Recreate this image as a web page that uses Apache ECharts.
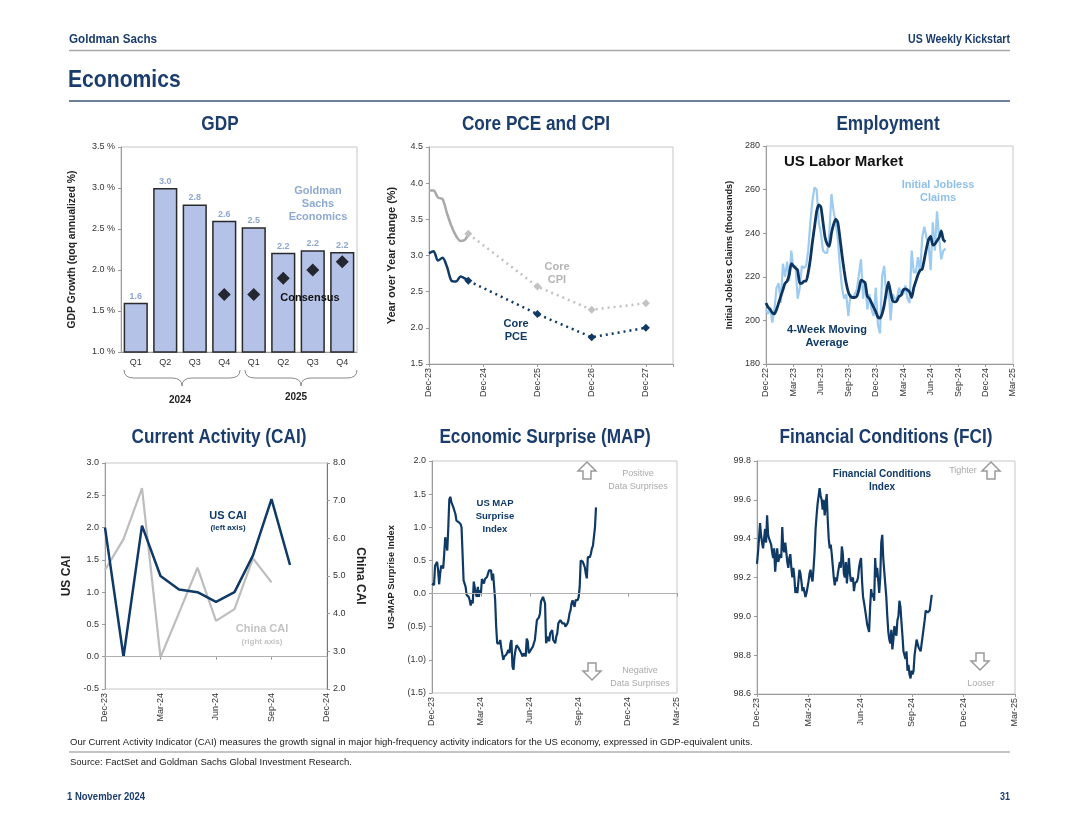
<!DOCTYPE html>
<html><head><meta charset="utf-8">
<script src="https://cdn.jsdelivr.net/npm/echarts/dist/echarts.min.js"></script>
<style>html,body{margin:0;padding:0;background:#fff}#c{width:1080px;height:835px}</style>
</head><body><div id="c"></div>
<script>
// ---------------- DATA ----------------
const gdpQuarters = ['Q1','Q2','Q3','Q4','Q1','Q2','Q3','Q4'];
const gdpGS = [1.6, 3.0, 2.8, 2.6, 2.52, 2.21, 2.24, 2.22];
const gdpLabels = ['1.6','3.0','2.8','2.6','2.5','2.2','2.2','2.2'];
const gdpConsensus = [null, null, null, 1.7, 1.7, 1.9, 2.0, 2.1];
const gdpYears = ['2024','2025'];

const pceTickLabels = ['Dec-23','Dec-24','Dec-25','Dec-26','Dec-27'];
const cpiActual = [3.9, 3.9, 3.8, 3.78, 3.58, 3.4, 3.27, 3.2, 3.22];
const pceActual = [3.03, 3.06, 2.93, 2.97, 2.84, 2.65, 2.64, 2.71, 2.68];
const forecastMonths = [8.7, 24, 36, 48];
const cpiForecast = [3.3, 2.57, 2.25, 2.34];
const pceForecast = [2.65, 2.19, 1.87, 2.0];

const empTickLabels = ['Dec-22','Mar-23','Jun-23','Sep-23','Dec-23','Mar-24','Jun-24','Sep-24','Dec-24','Mar-25'];
const claimsWeekly = [205,203,206,199,205,215,217,208,226,220,
  227,218,232,224,225,210,215,225,224,225,
  232,245,255,261,260,245,240,232,231,231,
  240,258,250,245,238,225,215,210,212,202,
  212,210,212,214,221,228,210,218,205,212,
  205,202,215,198,194,220,225,210,218,200,
  212,210,210,215,212,212,216,210,208,232,
  222,222,229,222,238,243,238,235,223,245,
  232,250,238,228,232,233];
const claimsMA4 = [208,206,205,203.5,203,205,208,211,214,217,
  218,221,226,225,224,223,217,217,218,218,
  222,228,236,243,250,253,252,245,238,235,
  234,240,244,246.5,245,238,230,223,217,213,
  211,210.5,210.5,211,214,218.5,218,217,211,210,
  208,206,204,201.5,201,203,207,213,217.5,213,
  209,208.5,209,211,211.5,214,214.5,214,213,210.5,
  215,218,221,223,223.5,228,233,237,238.5,234.5,
  235,236.5,238,241,237,236];

const caiTickLabels = ['Dec-23','Mar-24','Jun-24','Sep-24','Dec-24'];
const usCAI = [2.0, 0.0, 2.03, 1.25, 1.04, 1.0, 0.85, 1.0, 1.57, 2.44, 1.42];
const chinaCAI = [5.16, 5.98, 7.33, 2.84, 4.02, 5.22, 3.81, 4.12, 5.47, 4.83];

const qTickLabels = ['Dec-23','Mar-24','Jun-24','Sep-24','Dec-24','Mar-25'];
const mapSpanMonths = 10.04;
const mapValues = [0.15,0.13,0.13,0.42,0.45,0.48,0.35,0.14,0.30,0.42,0.40,0.38,0.60,0.85,0.85,0.65,1.00,1.42,1.46,1.38,1.35,1.30,1.25,1.20,1.10,1.13,1.08,1.10,1.05,1.00,0.60,0.20,0.15,
  0.10,-0.02,-0.05,-0.05,-0.10,-0.18,-0.10,-0.15,0.18,0.15,0.00,-0.05,0.10,-0.05,0.05,0.00,0.22,0.20,0.15,0.22,0.20,0.25,0.28,0.35,0.32,0.35,0.20,0.30,0.10,-0.10,-0.50,-0.75,-0.72,-0.75,-0.70,-0.82,-0.80,-1.00,-0.95,-0.98,-0.92,-0.95,-0.85,-0.90,-0.75,-0.70,-1.10,-1.15,-0.95,-0.85,-0.78,-0.76,-0.82,-0.80,-0.88,-0.85,-0.95,-0.90,-0.88,-0.95,-0.68,-0.72,-0.90,-0.92,-0.85,-0.82,-0.80,-0.75,-0.70,-0.55,-0.40,-0.38,-0.36,-0.30,-0.12,-0.10,-0.05,-0.04,-0.15,
  -0.75,-0.70,-0.65,-0.72,-0.60,-0.58,-0.55,-0.70,-0.72,-0.75,-0.65,-0.60,-0.45,-0.48,-0.40,-0.42,-0.45,-0.42,-0.45,-0.50,-0.48,-0.45,-0.40,-0.30,-0.25,-0.15,-0.10,-0.12,-0.20,-0.10,-0.12,-0.10,-0.05,0.10,0.50,0.50,0.48,0.45,0.40,0.30,0.23,0.55,0.57,0.55,0.60,0.68,0.72,0.70,1.00,1.30];

const fciSpanMonths = 10.16;
const fciValues = [99.27,99.33,99.40,99.48,99.42,99.38,99.35,99.40,99.45,99.38,
  99.52,99.42,99.40,99.40,99.37,99.33,99.30,99.35,99.23,99.30,
  99.35,99.28,99.30,99.32,99.30,99.46,99.35,99.33,99.38,99.39,
  99.28,99.25,99.30,99.32,99.25,99.20,99.25,99.20,99.12,99.15,
  99.12,99.18,99.24,99.22,99.18,99.13,99.15,99.14,99.10,99.12,
  99.15,99.18,99.22,99.24,99.20,99.18,99.25,99.33,99.45,99.52,
  99.58,99.62,99.66,99.62,99.60,99.55,99.60,99.52,99.58,99.63,
  99.50,99.40,99.35,99.37,99.32,99.33,99.20,99.16,99.20,99.18,
  99.22,99.25,99.28,99.25,99.36,99.32,99.22,99.20,99.28,99.17,
  99.24,99.30,99.22,99.18,99.17,99.20,99.13,99.17,99.16,99.18,
  99.20,99.25,99.28,99.30,99.18,99.10,99.07,99.06,99.00,98.96,
  98.95,98.92,99.05,99.14,99.10,99.12,99.08,99.30,99.20,99.25,
  99.24,99.12,99.20,99.38,99.42,99.30,99.23,99.22,99.10,99.00,
  98.92,98.88,98.86,98.93,98.83,98.88,98.95,98.92,98.90,98.98,
  99.00,99.08,99.05,98.97,98.90,98.82,98.80,98.78,98.82,98.72,
  98.75,98.70,98.68,98.72,98.70,98.72,98.80,98.84,98.88,98.86,
  98.84,98.83,98.82,98.86,98.90,98.94,98.98,99.03,99.03,99.02,
  99.02,99.03,99.03,99.11];

// ---------------- STYLE ----------------
const NAVY = '#0f3a66', TITLE = '#1b3d6d', BORDER = '#c6c6c6', AXTXT = '#333';
const SANS = "'Liberation Sans',Arial,sans-serif";

function qLabel(labels, step){
  return function(v){ const i = Math.round(v/step); return (Math.abs(v - i*step) < 1e-6 && labels[i]) ? labels[i] : ''; };
}
function grid(l,t,w,h){ return {left:l, top:t, width:w, height:h, show:true, borderColor:BORDER, borderWidth:1, backgroundColor:'transparent', containLabel:false, outerBoundsMode:'none'}; }
function valX(gi, max, step, labels){
  return {type:'value', gridIndex:gi, min:0, max:max, interval:step,
    axisLine:{show:true, lineStyle:{color:'#9a9a9a'}}, axisTick:{show:true, length:3, lineStyle:{color:'#9a9a9a'}},
    splitLine:{show:false},
    axisLabel:{rotate:90, fontSize:9, color:AXTXT, fontFamily:SANS, margin:4, formatter:qLabel(labels, step), showMinLabel:true, showMaxLabel:true}};
}
function valY(gi, min, max, step, fmt, extra){
  return Object.assign({type:'value', gridIndex:gi, min:min, max:max, interval:step,
    axisLine:{show:true, lineStyle:{color:'#9a9a9a'}}, axisTick:{show:true, length:3, lineStyle:{color:'#9a9a9a'}},
    splitLine:{show:false},
    axisLabel:{fontSize:9, color:AXTXT, fontFamily:SANS, margin:6, formatter:fmt},
    nameLocation:'middle', nameRotate:90,
    nameTextStyle:{fontSize:9, fontWeight:'bold', color:'#222', fontFamily:SANS}}, extra||{});
}
function nts(size){ return {fontSize:size, fontWeight:'bold', color:'#222', fontFamily:SANS}; }
// text element; sx = horizontal squeeze to emulate a narrow face
function T(text, x, y, font, fill, align, sx){
  return {type:'text', z:100, x:x, y:y, scaleX:sx||1, scaleY:1,
    style:{text:text, x:0, y:0, font:font, fill:fill, align:align||'center', verticalAlign:'middle', textAlign:align||'center', textVerticalAlign:'middle', lineHeight:13}};
}
function L(x1,y1,x2,y2,color,w){ return {type:'line', z:90, shape:{x1:x1,y1:y1,x2:x2,y2:y2}, style:{stroke:color, lineWidth:w}}; }
function Q(x1,y1,cx,cy,x2,y2){ return {type:'bezierCurve', z:90, shape:{x1:x1,y1:y1,cpx1:cx,cpy1:cy,x2:x2,y2:y2}, style:{stroke:'#8a8a8a', lineWidth:1, fill:null}}; }
function brace(a, b, top){
  const m = (a+b)/2, d = 8;
  return [Q(a,top,a,top+d,a+10,top+d), L(a+10,top+d,m-10,top+d,'#8a8a8a',1), Q(m-10,top+d,m,top+d,m,top+2*d),
          Q(m,top+2*d,m,top+d,m+10,top+d), L(m+10,top+d,b-10,top+d,'#8a8a8a',1), Q(b-10,top+d,b,top+d,b,top)];
}
function arrowUp(cx, cy){ return {type:'polygon', z:90, shape:{points:[[cx,cy-9],[cx+9,cy],[cx+4,cy],[cx+4,cy+8],[cx-4,cy+8],[cx-4,cy],[cx-9,cy]]}, style:{fill:'#fff', stroke:'#9a9a9a', lineWidth:1.5}}; }
function arrowDown(cx, cy){ return {type:'polygon', z:90, shape:{points:[[cx,cy+9],[cx+9,cy],[cx+4,cy],[cx+4,cy-8],[cx-4,cy-8],[cx-4,cy],[cx-9,cy]]}, style:{fill:'#fff', stroke:'#9a9a9a', lineWidth:1.5}}; }

const f1 = v => v.toFixed(1);
const paren = v => v < 0 ? '(' + Math.abs(v).toFixed(1) + ')' : v.toFixed(1);

const TF = "bold 20px " + SANS, TS = 0.86;
// ---------------- GRAPHICS ----------------
const graphics = [
  T('Goldman Sachs', 69, 40, "bold 12px " + SANS, TITLE, 'left', 0.97),
  T('US Weekly Kickstart', 1010, 40, "bold 12px " + SANS, TITLE, 'right', 0.88),
  L(69, 50.5, 1010, 50.5, '#a9a9a9', 1.5),
  T('Economics', 68, 80, "bold 24px " + SANS, TITLE, 'left', 0.88),
  L(69, 101, 1010, 101, '#3a5478', 1.5),
  // panel titles
  T('GDP', 220, 124, TF, TITLE, 'center', TS),
  T('Core PCE and CPI', 536, 124, TF, TITLE, 'center', TS),
  T('Employment', 888, 124, TF, TITLE, 'center', TS),
  T('Current Activity (CAI)', 219, 437, TF, TITLE, 'center', TS),
  T('Economic Surprise (MAP)', 545, 437, TF, TITLE, 'center', TS),
  T('Financial Conditions (FCI)', 886, 437, TF, TITLE, 'center', TS),
  // GDP annotations
  T('Goldman\nSachs\nEconomics', 318, 204, "bold 11px " + SANS, '#8eaad2'),
  T('Consensus', 310, 298, "bold 11px " + SANS, '#111'),
  T(gdpYears[0], 180, 400, "bold 10px " + SANS, '#222'),
  T(gdpYears[1], 296, 397, "bold 10px " + SANS, '#222'),
  // PCE annotations
  T('Core\nCPI', 557, 273, "bold 11px " + SANS, '#b5b5b5'),
  T('Core\nPCE', 516, 330, "bold 11px " + SANS, NAVY),
  // Employment annotations
  T('US Labor Market', 784, 162, "bold 15px " + SANS, '#111', 'left'),
  T('Initial Jobless\nClaims', 938, 191, "bold 11px " + SANS, '#8fc0ec'),
  T('4-Week Moving\nAverage', 827, 336, "bold 11px " + SANS, NAVY),
  // CAI annotations
  T('US CAI', 228, 516, "bold 11px " + SANS, NAVY),
  T('(left axis)', 228, 528, "bold 8px " + SANS, NAVY),
  T('China CAI', 262, 629, "bold 11px " + SANS, '#c3c3c3'),
  T('(right axis)', 262, 642, "bold 8px " + SANS, '#c3c3c3'),
  // MAP annotations
  T('US MAP\nSurprise\nIndex', 495, 516, "bold 9.5px " + SANS, NAVY),
  arrowUp(587, 471),
  T('Positive\nData Surprises', 638, 480, "9px " + SANS, '#aaa'),
  arrowDown(592, 671),
  T('Negative\nData Surprises', 640, 677, "9px " + SANS, '#aaa'),
  // FCI annotations
  T('Financial Conditions\nIndex', 882, 481, "bold 10px " + SANS, NAVY),
  T('Tighter', 963, 471, "9px " + SANS, '#aaa'),
  arrowUp(991, 471),
  arrowDown(980, 661),
  T('Looser', 981, 684, "9px " + SANS, '#aaa'),
  // footer
  T('Our Current Activity Indicator (CAI) measures the growth signal in major high-frequency activity indicators for the US economy, expressed in GDP-equivalent units.', 70, 742, "9.5px " + SANS, '#222', 'left'),
  L(69, 752, 1010, 752, '#c4c4c4', 2),
  T('Source: FactSet and Goldman Sachs Global Investment Research.', 70, 762, "9.5px " + SANS, '#222', 'left'),
  T('1 November 2024', 67, 797, "bold 10px " + SANS, TITLE, 'left', 0.95),
  T('31', 1010, 797, "bold 10px " + SANS, TITLE, 'right', 0.9)
].concat(brace(124, 240, 370), brace(245, 357, 370));

// ---------------- OPTION ----------------
const option = {
  backgroundColor:'#ffffff',
  animation:false,
  textStyle:{fontFamily:SANS},
  grid:[
    grid(121,147,236,205),   // 0 GDP
    grid(429,147,244,217),   // 1 PCE
    grid(766,146,247,218),   // 2 Employment
    grid(105,463,222,226),   // 3 CAI
    grid(432,461,245,232),   // 4 MAP
    grid(757,461,258,233)    // 5 FCI
  ],
  xAxis:[
    {type:'category', gridIndex:0, data:gdpQuarters,
      axisLine:{lineStyle:{color:'#9a9a9a'}}, axisTick:{show:false},
      axisLabel:{fontSize:9, color:AXTXT, margin:6}},
    valX(1, 54, 12, pceTickLabels),
    valX(2, 27, 3, empTickLabels),
    valX(3, 12, 3, caiTickLabels),
    valX(4, 15, 3, qTickLabels),
    valX(5, 15, 3, qTickLabels)
  ],
  yAxis:[
    valY(0, 1.0, 3.5, 0.5, v => v.toFixed(1) + ' %', {name:'GDP Growth (qoq annualized %)', nameGap:44, nameTextStyle:nts(10.3)}),
    valY(1, 1.5, 4.5, 0.5, f1, {name:'Year over Year change (%)', nameGap:32, nameTextStyle:nts(11)}),
    valY(2, 180, 280, 20, v => String(v), {name:'Initial Jobless Claims (thousands)', nameGap:32, nameTextStyle:nts(9.2)}),
    valY(3, -0.5, 3.0, 0.5, f1, {name:'US CAI', nameGap:32, nameTextStyle:nts(12)}),
    valY(3, 2, 8, 1, f1, {position:'right', name:'China CAI', nameGap:27, nameRotate:-90, nameTextStyle:nts(12), axisLine:{show:true, lineStyle:{color:'#777'}}}),
    valY(4, -1.5, 2.0, 0.5, paren, {name:'US-MAP Surprise Index', nameGap:36, nameTextStyle:nts(9.3)}),
    valY(5, 98.6, 99.8, 0.2, f1)
  ],
  graphic:graphics,
  series:[
    {type:'bar', xAxisIndex:0, yAxisIndex:0, data:gdpGS, barWidth:'82%',
      itemStyle:{color:'#b5c2e8', borderColor:'#2a2a2a', borderWidth:1.5},
      label:{show:true, position:'top', distance:2, fontSize:9, fontWeight:'bold', color:'#8ea6cf',
        formatter:p => gdpLabels[p.dataIndex]}},
    {type:'scatter', xAxisIndex:0, yAxisIndex:0, data:gdpConsensus, symbol:'diamond', symbolSize:[13,13],
      itemStyle:{color:'#000'}, z:5},
    // PCE / CPI
    {type:'line', xAxisIndex:1, yAxisIndex:1, showSymbol:false, smooth:0.3,
      data:cpiActual.map((v,i)=>[i,v]).concat([[forecastMonths[0], cpiForecast[0]]]),
      lineStyle:{color:'#a9a9a9', width:2.5}},
    {type:'line', xAxisIndex:1, yAxisIndex:1, symbol:'diamond', symbolSize:8,
      data:forecastMonths.map((m,i)=>[m,cpiForecast[i]]),
      itemStyle:{color:'#c2c2c2'}, lineStyle:{color:'#c2c2c2', width:2.5, type:[2,4]}},
    {type:'line', xAxisIndex:1, yAxisIndex:1, showSymbol:false, smooth:0.3,
      data:pceActual.map((v,i)=>[i,v]).concat([[forecastMonths[0], pceForecast[0]]]),
      lineStyle:{color:NAVY, width:2.5}},
    {type:'line', xAxisIndex:1, yAxisIndex:1, symbol:'diamond', symbolSize:8,
      data:forecastMonths.map((m,i)=>[m,pceForecast[i]]),
      itemStyle:{color:NAVY}, lineStyle:{color:NAVY, width:2.5, type:[2,4]}},
    // Employment
    {type:'line', xAxisIndex:2, yAxisIndex:2, showSymbol:false,
      data:claimsWeekly.map((v,i)=>[i*12/52, v]), lineStyle:{color:'#9ecbf0', width:2.2}},
    {type:'line', xAxisIndex:2, yAxisIndex:2, showSymbol:false, smooth:0.2,
      data:claimsMA4.map((v,i)=>[i*12/52, v]), lineStyle:{color:'#0d355f', width:2.8}},
    // CAI
    {type:'line', xAxisIndex:3, yAxisIndex:4, showSymbol:false,
      data:chinaCAI.map((v,i)=>[i,v]), lineStyle:{color:'#bdbdbd', width:2.2}},
    {type:'line', xAxisIndex:3, yAxisIndex:3, showSymbol:false,
      data:usCAI.map((v,i)=>[i,v]), lineStyle:{color:NAVY, width:2.5},
      markLine:{silent:true, symbol:'none', label:{show:false}, lineStyle:{color:'#b0b0b0', width:1, type:'solid'}, data:[{yAxis:0}]}},
    // MAP
    {type:'line', xAxisIndex:4, yAxisIndex:5, showSymbol:false,
      data:mapValues.map((v,i)=>[i*mapSpanMonths/(mapValues.length-1), v]), lineStyle:{color:NAVY, width:2.2},
      markLine:{silent:true, symbol:'none', label:{show:false}, lineStyle:{color:'#b0b0b0', width:1, type:'solid'}, data:[{yAxis:0}]}},
    // FCI
    {type:'line', xAxisIndex:5, yAxisIndex:6, showSymbol:false,
      data:fciValues.map((v,i)=>[i*fciSpanMonths/(fciValues.length-1), v]), lineStyle:{color:NAVY, width:2.2}}
  ]
};
const chart = echarts.init(document.getElementById('c'), null, {renderer:'canvas'});
chart.setOption(option);
</script></body></html>
